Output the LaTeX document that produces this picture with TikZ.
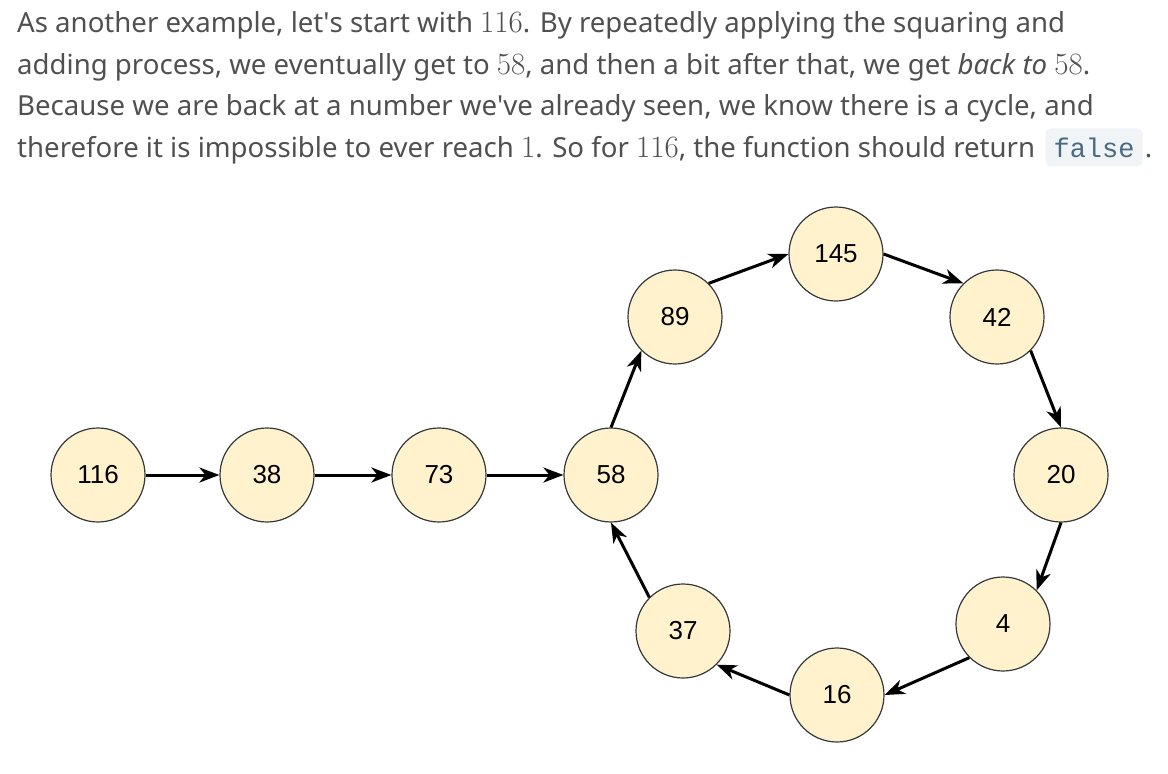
\documentclass[tikz,border=0pt]{standalone}
\usepackage{fix-cm}
\usepackage{fontspec}
\setmainfont{Noto Sans}
\setmonofont{Liberation Mono}
\newfontfamily\cellfont{Liberation Sans}
\usetikzlibrary{arrows.meta}
\definecolor{bodytext}{HTML}{505050}
\definecolor{codebg}{HTML}{F0F4F6}
\definecolor{codetext}{HTML}{4A6A80}
\definecolor{cellfill}{HTML}{FFF2CC}
\definecolor{cellline}{HTML}{36393D}
\newcommand{\kx}[1]{{\fontsize{31}{31}\selectfont$#1$}}
\begin{document}
\begin{tikzpicture}[x=1pt,y=-1pt]
		\tikzstyle{vertex}=[circle,draw=cellline,line width=1.2pt,fill=cellfill,minimum size=94pt,inner sep=0pt,font=\cellfont\fontsize{26}{26}\selectfont]
		\tikzstyle{link}=[-{Stealth[length=20pt,width=15pt,inset=6pt]},line width=3pt]
		\tikzstyle{para}=[anchor=base west,inner sep=0pt,text=bodytext,font=\fontsize{27.6}{27.6}\selectfont]
		\useasboundingbox (0,0) rectangle (1168,774);
		% paragraph
		\node[para] (p_1) at (17,32) {As another example, let\textquotesingle s start with \kx{116}. By repeatedly applying the squaring and};
		\node[para] (p_2) at (17,74) {adding process, we eventually get to \kx{58}, and then a bit after that, we get \textit{back to} \kx{58}.};
		\node[para] (p_3) at (17,115) {Because we are back at a number we\textquotesingle ve already seen, we know there is a cycle, and};
		\node[para] (p_4) at (17,157) {therefore it is impossible to ever reach \kx{1}. So for \kx{116}, the function should return};
		\node[anchor=base west,fill=codebg,rounded corners=5pt,text=codetext,inner xsep=8pt,inner ysep=9pt,font=\ttfamily\fontsize{27}{27}\selectfont] (code) at ([xshift=10pt]p_4.base east) {false};
		\node[para] (dot) at ([xshift=2pt]code.base east) {.};
		% the chain
		\node[vertex] (g_116) at (98,475) {116};
		\node[vertex] (g_38) at (267,475) {38};
		\node[vertex] (g_73) at (439,475) {73};
		\node[vertex] (g_58) at (611,475) {58};
		\node[vertex] (g_89) at (675,317) {89};
		\node[vertex] (g_145) at (836,254) {145};
		\node[vertex] (g_42) at (997,317) {42};
		\node[vertex] (g_20) at (1061,475) {20};
		\node[vertex] (g_4) at (1003,624) {4};
		\node[vertex] (g_16) at (837,695) {16};
		\node[vertex] (g_37) at (683,631) {37};
		\draw[link] (g_116) -- (g_38);
		\draw[link] (g_38) -- (g_73);
		\draw[link] (g_73) -- (g_58);
		\draw[link] (g_58.north) -- (g_89.south west);
		\draw[link] (g_89.north east) -- (g_145.west);
		\draw[link] (g_145.east) -- (g_42.north west);
		\draw[link] (g_42.south east) -- (g_20.north);
		\draw[link] (g_20.south) -- (g_4.north east);
		\draw[link] (g_4.south west) -- (g_16.east);
		\draw[link] (g_16.west) -- (g_37.south east);
		\draw[link] (g_37.north west) -- (g_58.south);
	\end{tikzpicture}
\end{document}
